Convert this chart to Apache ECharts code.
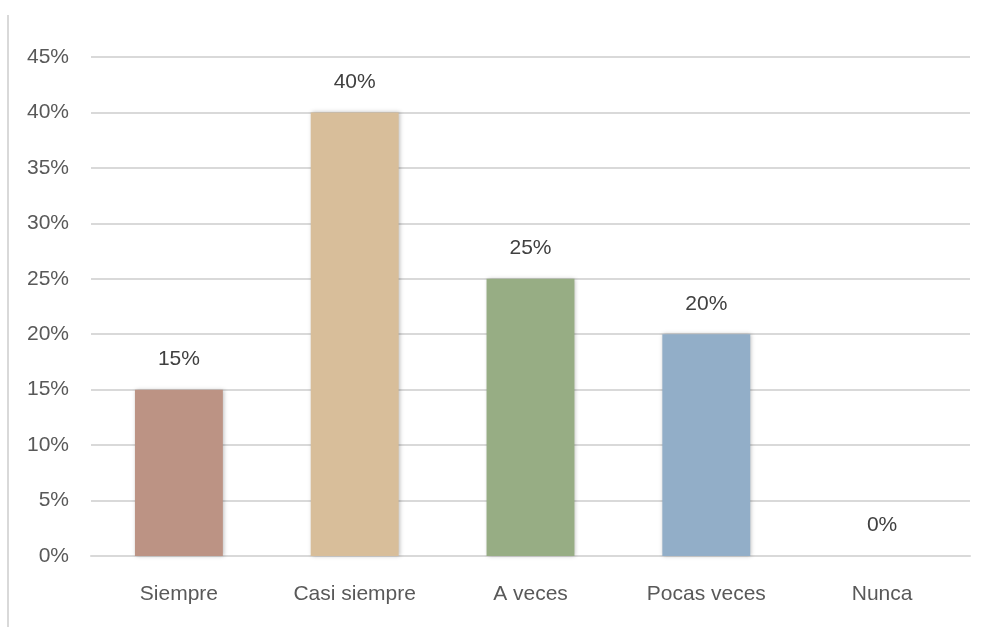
<!DOCTYPE html>
<html><head><meta charset="utf-8">
<script src="https://cdn.jsdelivr.net/npm/echarts@6/dist/echarts.min.js"></script>
<style>html,body{margin:0;padding:0;background:#fff}#c{width:989px;height:627px}</style>
</head><body><div id="c"></div>
<script>
const categories = ['Siempre', 'Casi siempre', 'A veces', 'Pocas veces', 'Nunca'];
const values = [15, 40, 25, 20, 0];
const barColors = ['#BC9384', '#D8BE9A', '#97AD84', '#92AEC8', '#E8E8E8'];
const font = '"Liberation Sans", sans-serif';
const chart = echarts.init(document.getElementById('c'));
chart.setOption({
  animation: false,
  grid: { left: 91, right: 19, top: 57, bottom: 71 },
  graphic: [{ type: 'line', shape: { x1: 8, y1: 15, x2: 8, y2: 627 }, style: { stroke: '#d9d9d9', lineWidth: 2 } }],
  xAxis: {
    type: 'category', data: categories,
    axisLine: { show: true, lineStyle: { color: '#d9d9d9', width: 2 } },
    axisTick: { show: false },
    axisLabel: { color: '#595959', fontSize: 21, fontFamily: font, margin: 28 }
  },
  yAxis: {
    type: 'value', min: 0, max: 45, interval: 5,
    axisLine: { show: false }, axisTick: { show: false },
    splitLine: { lineStyle: { color: '#d9d9d9', width: 2 } },
    axisLabel: { color: '#595959', fontSize: 21, fontFamily: font, margin: 22, formatter: v => v + '%' }
  },
  series: [{
    type: 'bar', barWidth: '50%',
    data: values.map((v, i) => ({ value: v, itemStyle: { color: barColors[i] } })),
    itemStyle: { shadowColor: 'rgba(0,0,0,0.25)', shadowBlur: 4, shadowOffsetX: 1 },
    label: { show: true, position: 'top', distance: 20, color: '#404040', fontSize: 21, fontFamily: font, formatter: p => p.value + '%' }
  }]
});
</script></body></html>
